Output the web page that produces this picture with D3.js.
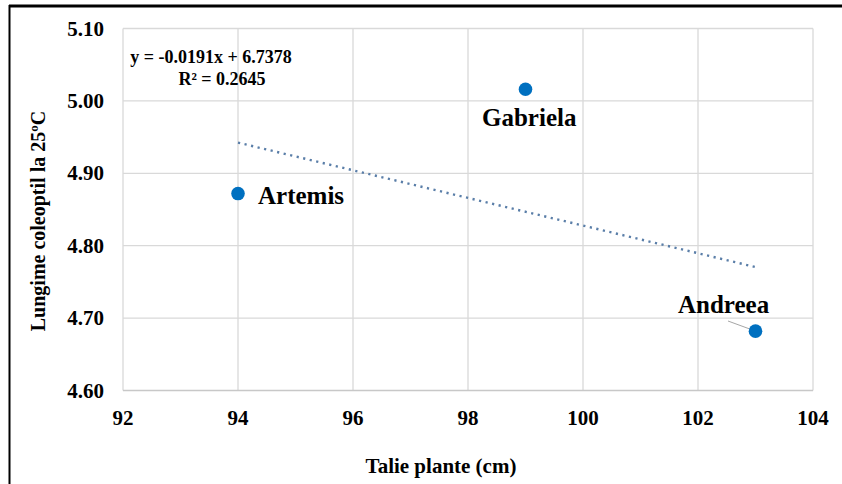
<!DOCTYPE html>
<html>
<head>
<meta charset="utf-8">
<script src="https://cdn.jsdelivr.net/npm/d3@7"></script>
<style>
  body { margin: 0; background: #fff; }
  svg text { font-family: "Liberation Serif", "Times New Roman", serif; font-weight: bold; fill: #000; }
</style>
</head>
<body>
<div id="container"></div>
<script>
// data
let varieties = ["Artemis", "Gabriela", "Andreea"];
let plantHeight = [94, 99, 103];
let coleoptile = [4.872, 5.016, 4.682];
let xTicks = [92, 94, 96, 98, 100, 102, 104];
let yTicks = [4.6, 4.7, 4.8, 4.9, 5.0, 5.1];
let trendSlope = -0.0191;
let trendIntercept = 6.7378;
let equationLines = ["y = -0.0191x + 6.7378", "R² = 0.2645"];

let width = 842, height = 484;
let plot = { left: 123, right: 813, top: 28.5, bottom: 390.5 };

let svg = d3.select("#container").append("svg")
  .attr("width", width)
  .attr("height", height);

// frame (only top and left show in the picture)
svg.append("line").attr("x1", 9).attr("x2", width).attr("y1", 6).attr("y2", 6)
  .attr("stroke", "#000").attr("stroke-width", 3);
svg.append("line").attr("x1", 9.5).attr("x2", 9.5).attr("y1", 5).attr("y2", height)
  .attr("stroke", "#000").attr("stroke-width", 2);

let x = d3.scaleLinear().domain([92, 104]).range([plot.left, plot.right]);
let y = d3.scaleLinear().domain([4.6, 5.1]).range([plot.bottom, plot.top]);

// gridlines
svg.append("g").selectAll("line").data(xTicks).join("line")
  .attr("x1", d => x(d)).attr("x2", d => x(d))
  .attr("y1", plot.top).attr("y2", plot.bottom)
  .attr("stroke", "#d9d9d9").attr("stroke-width", 1.3);
svg.append("g").selectAll("line").data(yTicks).join("line")
  .attr("x1", plot.left).attr("x2", plot.right)
  .attr("y1", d => y(d)).attr("y2", d => y(d))
  .attr("stroke", d => d === 4.6 ? "#c8c8c8" : "#d9d9d9").attr("stroke-width", 1.3);

// tick labels
svg.append("g").selectAll("text").data(xTicks).join("text")
  .attr("x", d => x(d)).attr("y", 425)
  .attr("text-anchor", "middle")
  .style("font-size", "21px")
  .text(d => d);
svg.append("g").selectAll("text").data(yTicks).join("text")
  .attr("x", 104).attr("y", d => y(d) + 7)
  .attr("text-anchor", "end")
  .style("font-size", "21px")
  .text(d => d3.format(".2f")(d));

// axis titles
svg.append("text")
  .attr("x", 441).attr("y", 473)
  .attr("text-anchor", "middle")
  .style("font-size", "21px")
  .text("Talie plante (cm)");
svg.append("text")
  .attr("transform", "translate(45,221) rotate(-90)")
  .attr("text-anchor", "middle")
  .style("font-size", "20px")
  .text("Lungime coleoptil la 25ºC");

// linear trendline over the data range
let xr = d3.extent(plantHeight);
svg.append("line")
  .attr("x1", x(xr[0])).attr("y1", y(trendSlope * xr[0] + trendIntercept))
  .attr("x2", x(xr[1])).attr("y2", y(trendSlope * xr[1] + trendIntercept))
  .attr("stroke", "#5a7ea8")
  .attr("stroke-width", 2.4)
  .attr("stroke-dasharray", "2.2,4.5");

// equation
svg.append("g").selectAll("text").data(equationLines).join("text")
  .attr("x", (d, i) => i === 0 ? 211 : 222)
  .attr("y", (d, i) => 63 + i * 22)
  .attr("text-anchor", "middle")
  .style("font-size", "18px")
  .text(d => d);

// leader line for Andreea
svg.append("line")
  .attr("x1", 728).attr("y1", 321)
  .attr("x2", x(plantHeight[2]) - 4).attr("y2", y(coleoptile[2]) - 1.5)
  .attr("stroke", "#a6a6a6").attr("stroke-width", 1);

// points
let pts = varieties.map((v, i) => ({ name: v, x: plantHeight[i], y: coleoptile[i] }));
svg.append("g").selectAll("circle").data(pts).join("circle")
  .attr("cx", d => x(d.x)).attr("cy", d => y(d.y))
  .attr("r", 6.8)
  .attr("fill", "#0070c0");

// point labels (offsets as placed in the picture)
let labelPos = { Artemis: [258, 204], Gabriela: [482, 126], Andreea: [678, 313] };
svg.append("g").selectAll("text").data(pts).join("text")
  .attr("x", d => labelPos[d.name][0])
  .attr("y", d => labelPos[d.name][1])
  .style("font-size", "25px")
  .text(d => d.name);
</script>
</body>
</html>
